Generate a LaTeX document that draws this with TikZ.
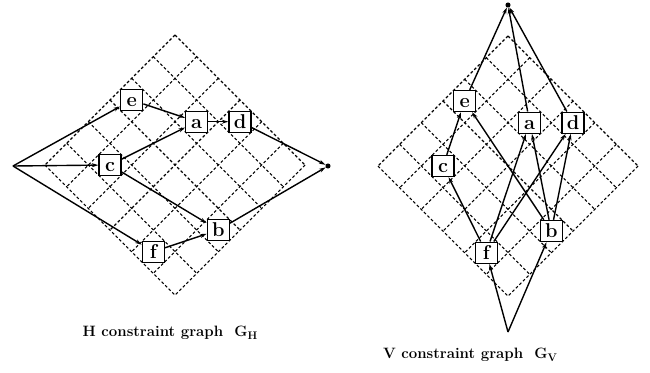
\documentclass[tikz,border=0pt]{standalone}
\usepackage{tikz}
\usetikzlibrary{arrows.meta}

\begin{document}
\begin{tikzpicture}[x=1pt,y=-1pt,
  blk/.style={draw,line width=1.4pt,fill=white,minimum width=22pt,minimum height=21pt,
              inner sep=0pt,text height=13pt,text depth=0pt,font=\fontsize{20}{20}\selectfont\bfseries},
  grd/.style={line width=1.1pt,dash pattern=on 2.8pt off 2.2pt},
  edg/.style={-{Stealth[length=6.5pt,width=4pt]},line width=1.4pt},
  snk/.style={circle,fill,inner sep=1.8pt},
  lbl/.style={font=\fontsize{15}{17}\selectfont\bfseries}
]
\useasboundingbox[fill=white] (0,0) rectangle (650,372);
% oblique grids
\foreach \gx/\gy in {175/35,508/36}{
  \foreach \k in {0,...,6}{
    \draw[grd] ({\gx-21.67*\k},{\gy+21.67*\k}) -- ++(130,130);
    \draw[grd] ({\gx+21.67*\k},{\gy+21.67*\k}) -- ++(-130,130);
  }
}
% H constraint graph
\coordinate (hs) at (13,166);
\node[snk] (hk) at (328,166) {};
\node[blk] (he) at (131.7,100) {e};
\node[blk] (ha) at (196.7,121.7) {a};
\node[blk] (hd) at (240,121.7) {d};
\node[blk] (hc) at (110,165) {c};
\node[blk] (hb) at (218.3,230) {b};
\node[blk] (hf) at (153.3,251.7) {f};
\draw[edg] (hs) -- (he);
\draw[edg] (hs) -- (hc);
\draw[edg] (hs) -- (hf);
\draw[edg] (he) -- (ha);
\draw[edg] (hc) -- (ha);
\draw[edg] (hc) -- (hb);
\draw[edg] (hf) -- (hb);
\draw[edg] (ha) -- (hd);
\draw[edg] (hd) -- (hk);
\draw[edg] (hb) -- (hk);
\node[lbl] (hcap) at (170,333) {H constraint graph~~G\raisebox{-0.4ex}{\fontsize{11}{11}\selectfont H}};
% V constraint graph
\coordinate (vs) at (508,332);
\node[snk] (vk) at (508,5) {};
\node[blk] (ve) at (464.7,101) {e};
\node[blk] (va) at (529.7,122.7) {a};
\node[blk] (vd) at (573,122.7) {d};
\node[blk] (vc) at (443,166) {c};
\node[blk] (vb) at (551.3,231) {b};
\node[blk] (vf) at (486.3,252.7) {f};
\draw[edg] (vs) -- (vf);
\draw[edg] (vs) -- (vb);
\draw[edg] (vf) -- (vc);
\draw[edg] (vf) -- (va);
\draw[edg] (vf) -- (vd);
\draw[edg] (vb) -- (ve);
\draw[edg] (vb) -- (va);
\draw[edg] (vb) -- (vd);
\draw[edg] (vc) -- (ve);
\draw[edg] (ve) -- (vk);
\draw[edg] (va) -- (vk);
\draw[edg] (vd) -- (vk);
\node[lbl] (vcap) at (470,355) {V constraint graph~~G\raisebox{-0.4ex}{\fontsize{11}{11}\selectfont V}};
\end{tikzpicture}
\end{document}
